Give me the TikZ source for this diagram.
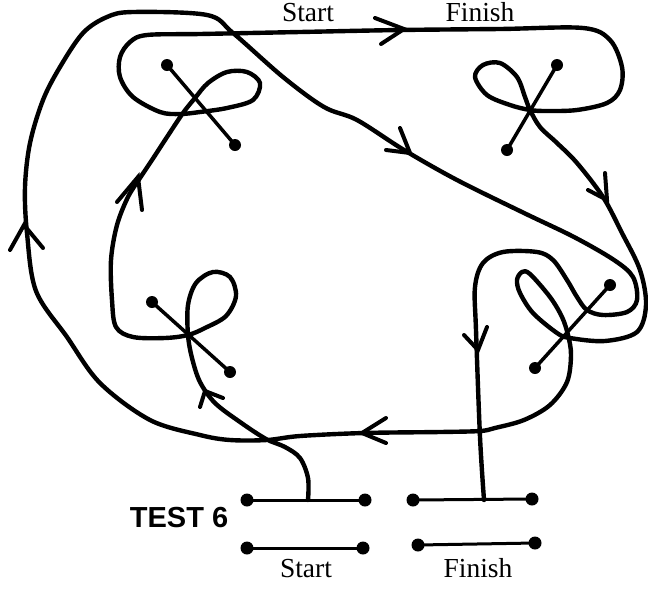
\documentclass[tikz,border=0pt]{standalone}
\usepackage{fontspec}
\setmainfont{Liberation Serif}
\newfontfamily\testfont{Liberation Sans}
\begin{document}
\begin{tikzpicture}[x=1pt,y=-1pt,
    curve/.style={line width=4.4pt,line cap=round,line join=round},
    barb/.style={line width=4pt,line cap=round,line join=miter},
    bar/.style={line width=3pt},
    stick/.style={line width=3.5pt},
    blob/.style={fill=black},
    lbl/.style={anchor=base,inner sep=0pt,font=\fontsize{27.5}{28}\selectfont}]
\useasboundingbox (0,0) rectangle (648,590);
\draw[curve] plot[smooth,tension=0.55] coordinates {
  (308,500) (308,478) (300,458) (285,447) (266,439) (240,422) (215,403)
  (200,382) (192,358) (188,335) (188,305) (196,283) (213,272) (230,277)
  (236,296) (226,316) (205,328) (188,335) (165,338) (133,337) (116,327)
  (112,300) (111,260) (117,225) (128,197) (140,178) (152,160) (167,137)
  (183,113) (195,98) (208,83) (227,72) (247,72) (260,83) (253,100)
  (227,108) (200,112) (180,114) (160,112) (133,97) (120,77) (120,57)
  (130,42) (147,35) (200,34) (300,32) (400,30) (500,29) (583,28)
  (610,40) (622,67) (620,90) (607,103) (577,110) (547,111) (530,110)
  (510,105) (487,95) (475,77) (483,65) (500,63) (517,77) (525,97)
  (530,110) (540,127) (557,143) (577,163) (603,197) (622,233) (640,270)
  (646,305) (637,332) (605,341) (570,338) (557,333) (533,313) (520,293)
  (517,280) (522,272) (530,274) (550,297) (562,317) (568,335) (571,355)
  (567,382) (550,405) (524,420) (495,428) (480,431) (440,432) (364,433)
  (300,436) (267,440) (230,440) (200,435) (150,420) (100,383) (67,337)
  (36,291) (27,233) (25,187) (30,143) (43,100) (60,67) (83,33)
  (107,17) (133,12) (207,15) (233,33) (283,77) (324,107) (357,120)
  (404,150) (457,180) (524,213) (574,237) (614,260) (633,277) (637,300)
  (627,312) (603,315) (587,310) (577,297) (567,280) (553,260) (537,252)
  (503,252) (483,263) (475,287) (476,330) (480,437) (484,500)};
\draw[barb] (200,407) -- (205,391) -- (223,398);
\draw[barb] (117,202) -- (138,177) -- (142,210);
\draw[barb] (375,18) -- (404,29) -- (381,44);
\draw[barb] (588,190) -- (607,200) -- (605,173);
\draw[barb] (386,150) -- (410,153) -- (400,128);
\draw[barb] (10,250) -- (24,225) -- (43,248);
\draw[barb] (386,418) -- (362,433) -- (386,443);
\draw[barb] (464,335) -- (478,350) -- (487,327);
\draw[stick] (167,65) -- (235,145);
\draw[stick] (557,65) -- (507,150);
\draw[stick] (152,302) -- (230,372);
\draw[stick] (610,285) -- (535,368);
\foreach \p in {(167,65),(235,145),(557,65),(507,150),(152,302),(230,372),(610,285),(535,368)}
  \fill[blob] \p circle[radius=6];
\coordinate (sa) at (247,500);
\coordinate (sb) at (365,500);
\coordinate (sc) at (247,548);
\coordinate (sd) at (363,548);
\coordinate (fa) at (413,500);
\coordinate (fb) at (532,499);
\coordinate (fc) at (418,545);
\coordinate (fd) at (535,543);
\draw[bar] (sa) -- (sb);
\draw[bar] (sc) -- (sd);
\draw[bar] (fa) -- (fb);
\draw[bar] (fc) -- (fd);
\foreach \q in {sa,sb,sc,sd,fa,fb,fc,fd}
  \fill[blob] (\q) circle[radius=6.5];
\node[lbl] (topstart) at (308,21) {Start};
\node[lbl] (topfinish) at (480,21) {Finish};
\node[lbl] (botstart) at (306,577) {Start};
\node[lbl] (botfinish) at (478,577) {Finish};
\node[anchor=base,font=\testfont\bfseries\fontsize{29}{29}\selectfont] (test) at (179,527) {TEST 6};
\end{tikzpicture}
\end{document}
